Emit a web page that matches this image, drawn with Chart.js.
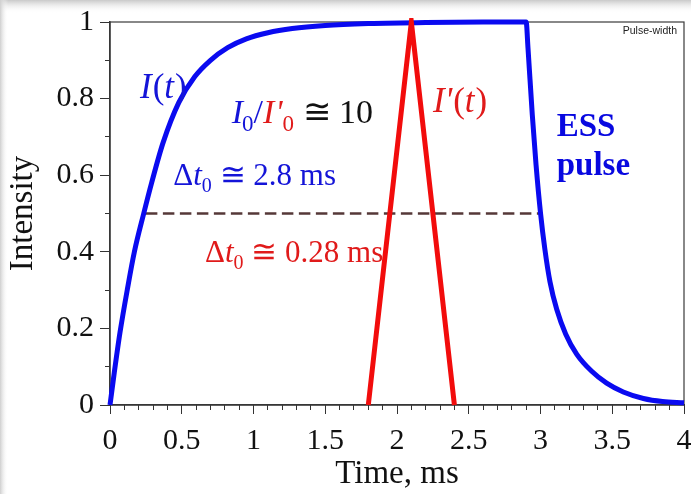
<!DOCTYPE html>
<html>
<head>
<meta charset="utf-8">
<script src="https://cdn.jsdelivr.net/npm/chart.js@4.4.1/dist/chart.umd.min.js"></script>
<style>
html,body{margin:0;padding:0;background:#fff;}
#wrap{width:691px;height:494px;}
</style>
</head>
<body>
<div id="wrap"><canvas id="c" width="691" height="494"></canvas></div>
<script>
// ---- data ----
const pulseT = [0, 0.03, 0.07, 0.12, 0.17, 0.235, 0.29, 0.37, 0.48, 0.59, 0.70, 0.82, 0.95, 1.1, 1.27, 1.5, 1.8, 2.2, 2.6, 2.9,
                2.913, 2.943, 2.969, 3.001, 3.03, 3.066, 3.113, 3.176, 3.252, 3.357, 3.461, 3.577, 3.717, 3.85, 4.0];
const pulseI = [0, 0.085, 0.19, 0.30, 0.40, 0.50, 0.58, 0.685, 0.79, 0.857, 0.90, 0.933, 0.956, 0.972, 0.983, 0.991, 0.996, 0.999, 1.0, 1.0,
                0.931, 0.757, 0.627, 0.498, 0.408, 0.322, 0.250, 0.185, 0.133, 0.088, 0.057, 0.034, 0.017, 0.009, 0.006];
const shortT = [1.8, 2.1, 2.4];
const shortI = [0, 1, 0];
const halfT = [0.25, 3.0];
const halfI = [0.5, 0.5];

const xTickValues = [0, 0.5, 1, 1.5, 2, 2.5, 3, 3.5, 4];
const xTickLabels = ['0', '0.5', '1', '1.5', '2', '2.5', '3', '3.5', '4'];
const yTickValues = [0, 0.2, 0.4, 0.6, 0.8, 1];
const yTickLabels = ['0', '0.2', '0.4', '0.6', '0.8', '1'];
const xMinorTicks = [0, 0.1, 0.2, 0.3, 0.4, 0.5, 0.6, 0.7, 0.8, 0.9, 1, 1.1, 1.2, 1.3, 1.4, 1.5, 1.6, 1.7, 1.8, 1.9, 2,
                     2.1, 2.2, 2.3, 2.4, 2.5, 2.6, 2.7, 2.8, 2.9, 3, 3.1, 3.2, 3.3, 3.4, 3.5, 3.6, 3.7, 3.8, 3.9, 4];
const yMinorTicks = [0, 0.1, 0.2, 0.3, 0.4, 0.5, 0.6, 0.7, 0.8, 0.9, 1];
const xTitle = 'Time, ms';
const yTitle = 'Intensity';

const pts = (xs, ys) => xs.map((x, i) => ({x: x, y: ys[i]}));

const SERIF = "'Liberation Serif','Times New Roman',serif";
const BLUE = '#0a0af0';
const TBLUE = '#1414d8';
const RED = '#f20c0c';
const TRED = '#e01a1a';

function drawRuns(ctx, x, y, runs) {
  let cx = x;
  for (const r of runs) {
    ctx.font = r.f;
    ctx.fillStyle = r.c;
    ctx.fillText(r.t, cx, y + (r.dy || 0));
    cx += ctx.measureText(r.t).width + (r.k || 0);
  }
}

const bgPlugin = {
  id: 'bg',
  beforeDraw(chart) {
    const ctx = chart.ctx;
    ctx.save();
    ctx.fillStyle = '#ffffff';
    ctx.fillRect(0, 0, chart.width, chart.height);
    let g = ctx.createLinearGradient(0, 0, 0, 13);
    g.addColorStop(0, '#c9c9c9');
    g.addColorStop(1, 'rgba(255,255,255,0)');
    ctx.fillStyle = g;
    ctx.fillRect(0, 0, chart.width, 13);
    g = ctx.createLinearGradient(0, 0, 8, 0);
    g.addColorStop(0, '#cfcfcf');
    g.addColorStop(1, 'rgba(255,255,255,0)');
    ctx.fillStyle = g;
    ctx.fillRect(0, 0, 8, chart.height);
    ctx.restore();
  }
};

const framePlugin = {
  id: 'frame',
  beforeDatasetsDraw(chart) {
    const a = chart.chartArea, ctx = chart.ctx;
    ctx.save();
    ctx.strokeStyle = '#3a3a3a';
    ctx.lineWidth = 1.2;
    ctx.strokeRect(a.left, a.top, a.right - a.left, a.bottom - a.top);
    ctx.restore();
  }
};

const textPlugin = {
  id: 'texts',
  afterDatasetsDraw(chart) {
    const ctx = chart.ctx, xs = chart.scales.x, ys = chart.scales.y;
    const P = (t, v) => [xs.getPixelForValue(t), ys.getPixelForValue(v)];
    ctx.save();
    ctx.textAlign = 'left';
    ctx.textBaseline = 'alphabetic';
    const it = s => 'italic ' + s + 'px ' + SERIF;
    const up = s => s + 'px ' + SERIF;
    const bd = s => 'bold ' + s + 'px ' + SERIF;
    let p;
    p = P(0.209, 0.802);
    drawRuns(ctx, p[0], p[1], [
      {t: 'I', f: it(35), c: TBLUE, k: 1}, {t: '(', f: up(35), c: TBLUE},
      {t: 't', f: it(35), c: TBLUE, k: 1}, {t: ')', f: up(35), c: TBLUE}]);
    p = P(0.848, 0.7355);
    drawRuns(ctx, p[0], p[1], [
      {t: 'I', f: it(34), c: TBLUE, k: -1}, {t: '0', f: up(23), c: TBLUE, dy: 8},
      {t: '/', f: up(34), c: TBLUE}, {t: 'I', f: it(34), c: TRED, k: 1},
      {t: "'", f: it(34), c: TRED}, {t: '0', f: up(23), c: TRED, dy: 8},
      {t: ' \u2245 10', f: up(34), c: '#111111'}]);
    p = P(2.251, 0.766);
    drawRuns(ctx, p[0], p[1], [
      {t: 'I', f: it(35), c: TRED}, {t: "'", f: it(35), c: TRED, k: 1},
      {t: '(', f: up(35), c: TRED}, {t: 't', f: it(35), c: TRED, k: 1},
      {t: ')', f: up(35), c: TRED}]);
    p = P(3.113, 0.7023);
    drawRuns(ctx, p[0], p[1], [{t: 'ESS', f: bd(33), c: '#0808e0'}]);
    p = P(3.113, 0.6005);
    drawRuns(ctx, p[0], p[1], [{t: 'pulse', f: bd(33), c: '#0808e0'}]);
    p = P(0.441, 0.574);
    drawRuns(ctx, p[0], p[1], [
      {t: '\u0394', f: up(31), c: TBLUE}, {t: 't', f: it(31), c: TBLUE},
      {t: '0', f: up(20), c: TBLUE, dy: 7}, {t: ' \u2245 2.8 ms', f: up(31), c: TBLUE}]);
    p = P(0.662, 0.374);
    drawRuns(ctx, p[0], p[1], [
      {t: '\u0394', f: up(31), c: TRED}, {t: 't', f: it(31), c: TRED},
      {t: '0', f: up(20), c: TRED, dy: 7}, {t: ' \u2245 0.28 ms', f: up(31), c: TRED}]);
    const a = chart.chartArea;
    ctx.textAlign = 'right';
    ctx.font = "10.5px 'Liberation Sans', Arial, sans-serif";
    ctx.fillStyle = '#222222';
    ctx.fillText('Pulse-width', a.right - 7, a.top + 11.5);
    ctx.restore();
  }
};

const tickFont = {family: SERIF, size: 30};
const titleFont = {family: SERIF, size: 33};
const zeroPad = s => { s.paddingLeft = 0; s.paddingRight = 0; s.paddingTop = 0; s.paddingBottom = 0; };

new Chart(document.getElementById('c'), {
  type: 'line',
  data: {
    datasets: [
      {label: "I'(t)", data: pts(shortT, shortI), borderColor: RED, borderWidth: 5,
       borderJoinStyle: 'miter', pointRadius: 0, tension: 0, clip: 4, fill: false},
      {label: 'I(t)', data: pts(pulseT, pulseI), borderColor: BLUE, borderWidth: 5,
       borderJoinStyle: 'round', cubicInterpolationMode: 'monotone', pointRadius: 0, clip: 4, fill: false},
      {label: 'half', data: pts(halfT, halfI), borderColor: '#553838', borderWidth: 2.5,
       borderDash: [11.5, 5.5], pointRadius: 0, tension: 0, clip: 4, fill: false}
    ]
  },
  options: {
    responsive: false,
    animation: false,
    devicePixelRatio: 1,
    layout: {padding: {top: 22, right: 7, left: 0, bottom: 0}, autoPadding: false},
    plugins: {legend: {display: false}, tooltip: {enabled: false}},
    scales: {
      x: {
        type: 'linear', position: 'bottom', weight: 1, min: 0, max: 4,
        afterBuildTicks: s => { s.ticks = xTickValues.map(v => ({value: v})); },
        afterFit: s => { s.height = 89; zeroPad(s); },
        ticks: {callback: (v, i) => xTickLabels[i], font: tickFont, color: '#111', padding: 9, maxRotation: 0, autoSkip: false},
        grid: {drawOnChartArea: false, tickLength: 9, color: '#333', lineWidth: 1},
        border: {color: '#333', width: 1.5},
        title: {display: true, text: xTitle, font: titleFont, color: '#111', padding: {top: 0, bottom: 0}}
      },
      xMinor: {
        type: 'linear', position: 'bottom', weight: 0, min: 0, max: 4,
        afterBuildTicks: s => { s.ticks = xMinorTicks.map(v => ({value: v})); },
        afterFit: s => { s.height = 0; zeroPad(s); },
        ticks: {display: false},
        grid: {drawOnChartArea: false, tickLength: 5, color: '#333', lineWidth: 1},
        border: {display: false}
      },
      y: {
        type: 'linear', position: 'left', weight: 1, min: 0, max: 1,
        afterBuildTicks: s => { s.ticks = yTickValues.map(v => ({value: v})); },
        afterFit: s => { s.width = 110; zeroPad(s); },
        ticks: {callback: (v, i) => yTickLabels[i], font: tickFont, color: '#111', padding: 6, autoSkip: false},
        grid: {drawOnChartArea: false, tickLength: 10, color: '#333', lineWidth: 1},
        border: {color: '#333', width: 1.5},
        title: {display: true, text: yTitle, font: titleFont, color: '#111', padding: {top: 4, bottom: 0}}
      },
      yMinor: {
        type: 'linear', position: 'left', weight: 0, min: 0, max: 1,
        afterBuildTicks: s => { s.ticks = yMinorTicks.map(v => ({value: v})); },
        afterFit: s => { s.width = 0; zeroPad(s); },
        ticks: {display: false},
        grid: {drawOnChartArea: false, tickLength: 5, color: '#333', lineWidth: 1},
        border: {display: false}
      }
    }
  },
  plugins: [bgPlugin, framePlugin, textPlugin]
});
</script>
</body>
</html>
